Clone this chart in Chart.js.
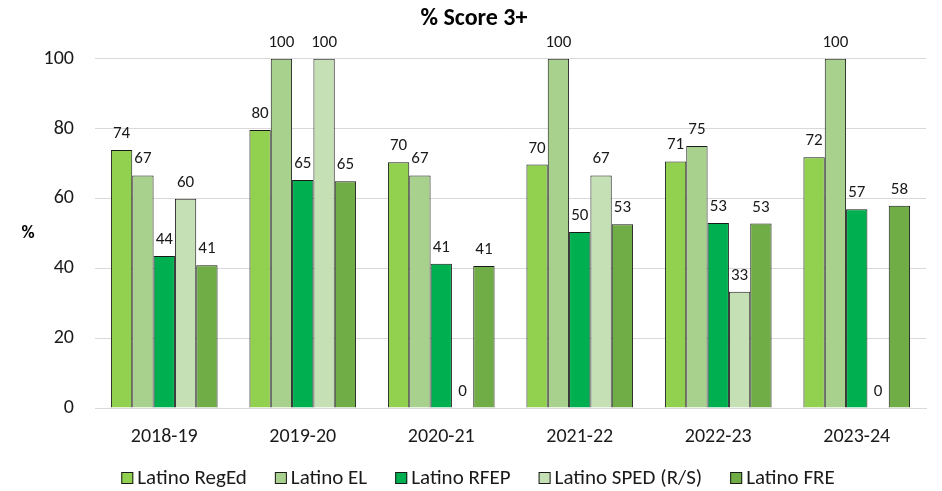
<!DOCTYPE html>
<html><head><meta charset="utf-8">
<script src="https://cdn.jsdelivr.net/npm/chart.js@4"></script>
<style>html,body{margin:0;padding:0;background:#fff}#wrap{width:942px;height:491px}</style>
</head><body><div id="wrap"><canvas id="c"></canvas></div>
<script>
const categories = ['2018-19','2019-20','2020-21','2021-22','2022-23','2023-24'];
const regEd = [73.9, 79.6, 70.4, 69.7, 70.6, 71.8];
const el    = [66.6, 100, 66.6, 100, 75.0, 100];
const rfep  = [43.5, 65.3, 41.3, 50.4, 53.0, 56.9];
const sped  = [59.9, 100, 0, 66.6, 33.3, 0];
const fre   = [40.9, 64.9, 40.7, 52.6, 52.8, 57.9];
const seriesNames = ['Latino RegEd','Latino EL','Latino RFEP','Latino SPED (R/S)','Latino FRE'];
const seriesColors = ['#92D050','#A9D18E','#00B050','#C5E0B4','#70AD47'];
const yTicks = [0,20,40,60,80,100];
const FONT = 'Carlito, Lato, sans-serif';

const labelPlugin = {
  id: 'labels',
  afterDatasetsDraw(chart) {
    const ctx = chart.ctx;
    ctx.save();
    ctx.font = '17px ' + FONT;
    ctx.fillStyle = '#1a1a1a';
    ctx.textAlign = 'center';
    ctx.textBaseline = 'alphabetic';
    chart.data.datasets.forEach((ds, i) => {
      const meta = chart.getDatasetMeta(i);
      meta.data.forEach((bar, j) => {
        ctx.fillText(String(Math.round(ds.data[j])), bar.x, bar.y - 12);
      });
    });
    // y axis title, horizontal
    ctx.font = 'bold 18px ' + FONT;
    ctx.fillStyle = '#000';
    ctx.textBaseline = 'middle';
    ctx.fillText('%', 28, (chart.chartArea.top + chart.chartArea.bottom) / 2);
    ctx.restore();
  }
};

const legendPlugin = {
  id: 'customLegend',
  afterDraw(chart) {
    const ctx = chart.ctx;
    ctx.save();
    ctx.font = '21px ' + FONT;
    const box = 12, textGap = 4, itemGap = 28;
    const items = chart.data.datasets.map(ds => ({ text: ds.label, color: ds.backgroundColor, w: ctx.measureText(ds.label).width }));
    const total = items.reduce((s, it) => s + box + textGap + it.w, 0) + itemGap * (items.length - 1);
    let x = 478 - total / 2;
    const cy = 478;
    ctx.textBaseline = 'middle';
    ctx.textAlign = 'left';
    items.forEach(it => {
      ctx.fillStyle = it.color;
      ctx.fillRect(x, cy - box / 2, box, box);
      ctx.strokeStyle = '#1a1a1a';
      ctx.lineWidth = 1;
      ctx.strokeRect(x + 0.5, cy - box / 2 + 0.5, box - 1, box - 1);
      ctx.fillStyle = '#1a1a1a';
      ctx.fillText(it.text, x + box + textGap, cy + 1);
      x += box + textGap + it.w + itemGap;
    });
    ctx.restore();
  }
};

const data = [regEd, el, rfep, sped, fre];
new Chart(document.getElementById('c'), {
  type: 'bar',
  data: {
    labels: categories,
    datasets: data.map((d, i) => ({
      label: seriesNames[i],
      data: d,
      backgroundColor: seriesColors[i],
      borderColor: '#1a1a1a',
      borderWidth: 1,
      borderSkipped: 'bottom',
      barPercentage: 1,
      categoryPercentage: 0.77
    }))
  },
  options: {
    responsive: true,
    maintainAspectRatio: false,
    animation: false,
    events: [],
    layout: { padding: { left: 22, right: 16, top: 0, bottom: 0 } },
    plugins: {
      title: {
        display: true,
        text: '% Score 3+',
        color: '#000',
        font: { family: FONT, size: 24, weight: 'bold' },
        padding: { top: 5, bottom: 25 }
      },
      legend: { display: false },
      tooltip: { enabled: false }
    },
    scales: {
      x: {
        grid: { display: false, drawTicks: false },
        border: { display: true, color: '#d9d9d9', width: 1 },
        ticks: { color: '#1a1a1a', font: { family: FONT, size: 20 }, padding: 17 },
        afterFit(s) { s.height = 83; }
      },
      y: {
        min: 0, max: 100,
        afterBuildTicks(s) { s.ticks = yTicks.map(v => ({ value: v })); },
        grid: { color: '#d9d9d9', drawTicks: false },
        border: { display: false },
        ticks: { color: '#1a1a1a', font: { family: FONT, size: 20 }, padding: 21 },
        afterFit(s) { s.width = 73; }
      }
    }
  },
  plugins: [labelPlugin, legendPlugin]
});
</script></body></html>
